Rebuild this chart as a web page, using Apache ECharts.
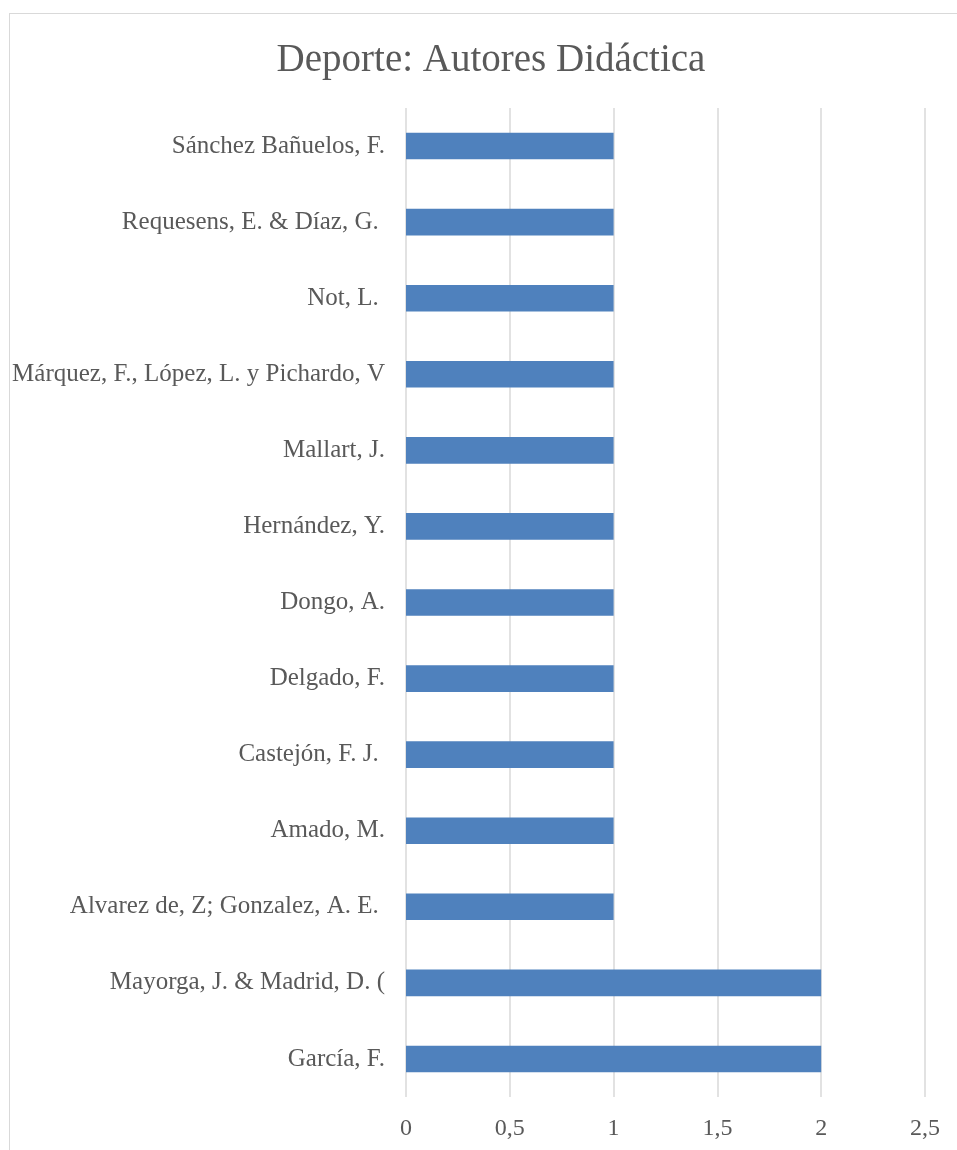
<!DOCTYPE html>
<html>
<head>
<meta charset="utf-8">
<script src="https://cdn.jsdelivr.net/npm/echarts@6/dist/echarts.min.js"></script>
<style>
  html, body { margin: 0; padding: 0; background: #fff; }
  #frame {
    position: absolute; left: 9px; top: 13px; width: 960px; height: 1150px;
    border: 1px solid #d9d9d9; box-sizing: border-box;
  }
  #chart { position: absolute; left: 0; top: 0; width: 957px; height: 1150px; }
</style>
</head>
<body>
<div id="frame"></div>
<div id="chart"></div>
<script>
// categories listed bottom to top, as the y axis draws them
const authors = [
  'García, F.',
  'Mayorga, J. & Madrid, D. (',
  'Alvarez de, Z; Gonzalez, A. E. ',
  'Amado, M.',
  'Castejón, F. J. ',
  'Delgado, F.',
  'Dongo, A.',
  'Hernández, Y.',
  'Mallart, J.',
  'Márquez, F., López, L. y Pichardo, V',
  'Not, L. ',
  'Requesens, E. & Díaz, G. ',
  'Sánchez Bañuelos, F.'
]
const counts = [2, 2, 1, 1, 1, 1, 1, 1, 1, 1, 1, 1, 1]
const xTicks = [0, 0.5, 1, 1.5, 2, 2.5]

const font = 'Liberation Serif'
const textColor = '#595959'

const chart = echarts.init(document.getElementById('chart'))

chart.setOption({
  animation: false,
  title: {
    text: 'Deporte: Autores Didáctica',
    left: 486,
    textAlign: 'center',
    top: 36,
    textStyle: { fontFamily: font, fontSize: 39, fontWeight: 'normal', color: textColor }
  },
  grid: { left: 406, right: 32, top: 108, bottom: 53, containLabel: false },
  xAxis: {
    type: 'value',
    min: xTicks[0],
    max: xTicks[xTicks.length - 1],
    interval: 0.5,
    axisLine: { show: false },
    axisTick: { show: false },
    splitLine: { lineStyle: { color: '#d9d9d9', width: 1.5 } },
    axisLabel: {
      margin: 20,
      fontFamily: font,
      fontSize: 24,
      color: textColor,
      formatter: v => String(v).replace('.', ',')
    }
  },
  yAxis: {
    type: 'category',
    data: authors,
    axisLine: { show: false },
    axisTick: { show: false },
    splitLine: { show: false },
    axisLabel: { margin: 21, fontFamily: font, fontSize: 25, color: textColor, padding: [5, 0, 0, 0] }
  },
  series: [{
    type: 'bar',
    data: counts,
    barWidth: '35%',
    itemStyle: { color: '#4F81BD' }
  }]
})
</script>
</body>
</html>
